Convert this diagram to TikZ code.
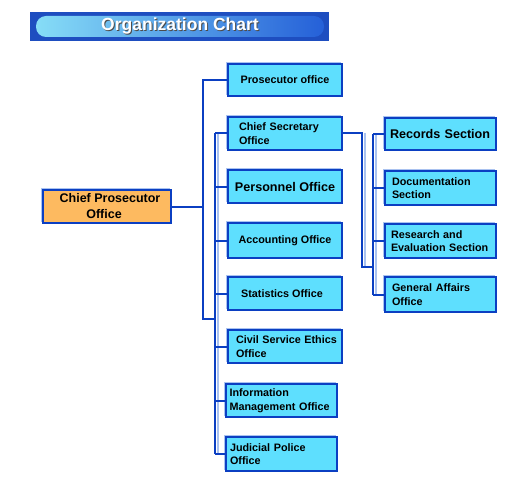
\documentclass[tikz,border=0pt]{standalone}
\usepackage{fontspec}
\setmainfont{Liberation Sans}
\definecolor{boxfill}{HTML}{5EDFFE}
\definecolor{dkblue}{HTML}{0B3FC2}
\definecolor{ltblue}{HTML}{A9C2F0}
\definecolor{orfill}{HTML}{FDBA60}
\definecolor{bannerbg}{HTML}{1E4EC0}
\definecolor{pillL}{HTML}{86DDF7}
\definecolor{pillR}{HTML}{2560D8}
\tikzset{
  x=1pt, y=-1pt,
  box/.style={draw=dkblue, fill=boxfill, line width=1.6pt, inner sep=0pt,
    minimum width=114pt, minimum height=33pt,
    font=\bfseries\fontsize{10.8}{13.5}\selectfont,
    preaction={draw=ltblue, line width=1.5pt, transform canvas={shift={(-1.5pt,1.5pt)}}}},
  lbox/.style={box, align=left, text width=#1},
  bigtxt/.style={font=\bfseries\fontsize{12.6}{15}\selectfont},
  conn/.style={draw=dkblue, line width=2pt},
  connsh/.style={draw=ltblue, line width=2pt, transform canvas={xshift=2.5pt}},
}
\begin{document}
\begin{tikzpicture}
\useasboundingbox (0,0) rectangle (532,497);
% banner
\fill[bannerbg] (30,12) rectangle (329,41);
\shade[left color=pillL, right color=pillR, rounded corners=10pt] (36,16) rectangle (324,37);
\node[text=black!70, font=\bfseries\fontsize{17.5}{19}\selectfont] at (181,27.5) {Organization Chart};
\node[text=white, font=\bfseries\fontsize{17.5}{19}\selectfont] (title) at (180,26.5) {Organization Chart};

% boxes
\node[box, minimum width=128pt, fill=orfill, align=center,
  font=\bfseries\fontsize{12.5}{16}\selectfont] (cpo) at (107,206.5) {\hspace*{6pt}Chief Prosecutor\\Office\hspace*{6pt}};
\node[box, minimum height=32pt] (po) at (285,80) {Prosecutor office};
\node[lbox=92pt] (cso) at (285,133.5) {Chief Secretary\\Office};
\node[box, bigtxt] (pers) at (285,186.5) {Personnel Office};
\node[box, minimum height=35pt] (acc) at (285,240.5) {Accounting Office};
\node[box] (stat) at (285,293.5) {\hspace*{-6pt}Statistics Office};
\node[lbox=106pt, minimum width=114pt] (cse) at (285,346.5) {\hspace*{4pt}Civil Service Ethics\\\hspace*{4pt}Office};
\node[lbox=104pt, minimum width=111pt] (imo) at (281.5,400.5) {Information\\Management Office};
\node[lbox=103pt, minimum width=111pt, minimum height=34pt] (jpo) at (281.5,454) {Judicial Police\\Office};
\node[lbox=101pt, minimum width=111pt, minimum height=32pt, bigtxt] (rec) at (440.5,134) {Records Section};
\node[lbox=97pt, minimum width=111pt, minimum height=34pt] (doc) at (440.5,188) {Documentation\\Section};
\node[lbox=99pt, minimum width=111pt, minimum height=34pt] (res) at (440.5,241) {Research and\\Evaluation Section};
\node[lbox=97pt, minimum width=111pt, minimum height=35pt] (gen) at (440.5,294.5) {General Affairs\\Office};

% bus coordinates
\coordinate (b1t) at (203,80);
\coordinate (b1b) at (203,319);
\coordinate (b2t) at (215,133.5);
\coordinate (b2b) at (215,454);
\coordinate (c1) at (362,267);
\coordinate (b3t) at (373,134);
\coordinate (b3b) at (373,294.5);

% shadows of buses
\draw[connsh] (b2t) -- (b2b);
\draw[connsh] (b3t) -- (b3b);
\draw[connsh] (c1) -- (c1 |- cso.east);

% connectors
\draw[conn] (cpo.east) -- (cpo.east -| b1t);
\draw[conn] (po.west) -- (b1t) -- (b1b) -- (b1b -| b2t);
\draw[conn] (b2t) -- (b2b);
\foreach \n in {cso,pers,acc,stat,cse,imo,jpo} \draw[conn] (\n.west) -- (\n.west -| b2t);
\draw[conn] (cso.east) -| (c1) -- (c1 -| b3t);
\draw[conn] (b3t) -- (b3b);
\foreach \n in {rec,doc,res,gen} \draw[conn] (\n.west) -- (\n.west -| b3t);
\end{tikzpicture}
\end{document}
